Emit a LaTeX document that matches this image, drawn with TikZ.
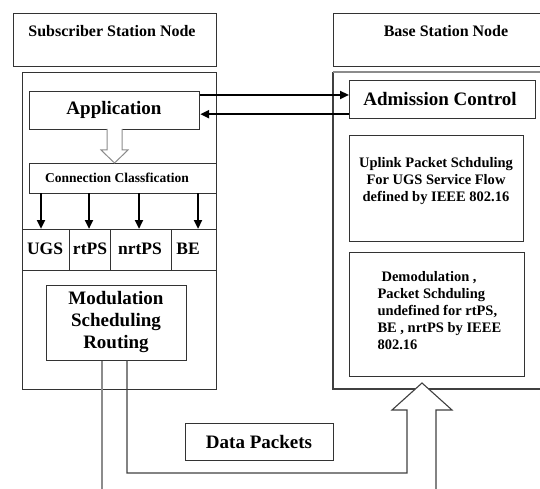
\documentclass[tikz,border=0pt]{standalone}
\usepackage{fontspec}
\setmainfont{Liberation Serif}
\usetikzlibrary{arrows.meta,calc}
\begin{document}
\begin{tikzpicture}[x=1pt,y=-1pt,
  box/.style={draw=black!80,line width=1.2pt,rectangle,inner sep=0pt,anchor=north west},
  thinline/.style={draw=black!75,line width=1.1pt},
  greyline/.style={draw=black!45,line width=1.1pt},
  thick arrow/.style={line width=2.6pt,-{Triangle[length=9pt,width=8pt]}},
  big/.style={font=\fontsize{19}{22}\selectfont\bfseries},
  cls/.style={font=\fontsize{17.5}{20}\selectfont\bfseries},
  head/.style={font=\fontsize{16}{19}\selectfont\bfseries},
  small/.style={font=\fontsize{14.5}{17}\selectfont\bfseries}]
\useasboundingbox (0,0) rectangle (540,489);

% Subscriber station
\node[box,minimum width=203pt,minimum height=53pt] (sshead) at (13,13) {};
\node[head] (sstitle) at (112,31) {Subscriber Station Node};
\node[box,minimum width=194pt,minimum height=317pt] (ssbody) at (22,72) {};
\node[box,minimum width=170pt,minimum height=38pt] (app) at (29,91) {};
\node[big] (apptext) at (114,110) {Application};
\node[box,minimum width=187pt,minimum height=30pt] (cc) at (29,163) {};
\node[font=\fontsize{13.5}{16}\selectfont\bfseries] (cctext) at (117,178) {Connection Classfication};

% service classes
\node[box,minimum width=47pt,minimum height=41pt] (ugs) at (22,229) {};
\node[box,minimum width=41pt,minimum height=41pt] (rtps) at (69,229) {};
\node[box,minimum width=61pt,minimum height=41pt] (nrtps) at (110,229) {};
\node[box,minimum width=45pt,minimum height=41pt] (be) at (171,229) {};
\node[cls] (ugstext) at (45,249) {UGS};
\node[cls] (rtpstext) at (90,249) {rtPS};
\node[cls] (nrtpstext) at (140,249) {nrtPS};
\node[cls] (betext) at (188,249) {BE};

\node[box,minimum width=140pt,minimum height=75pt] (mod) at (46,285) {};
\node[big,align=center] (modtext) at (116,322) {Modulation\\Scheduling\\Routing};

% classifier arrows
\foreach \x in {41,89,139,198}
  \draw[thick arrow] (\x,193) -- (\x,229);

% hollow arrow from application to classifier
\draw[greyline,fill=white,line width=1pt] (107,129) -- (107,150) -- (101,150) -- (114.5,163) -- (128,150) -- (122,150) -- (122,129);

% Base station
\node[box,minimum width=212pt,minimum height=53pt] (bshead) at (333,13) {};
\node[head] (bstitle) at (446,31) {Base Station Node};
\draw[thinline] (545,389) -- (333,389) -- (333,72);
\draw[greyline] (333,72) -- (545,72);
\node[box,minimum width=186pt,minimum height=38pt] (adm) at (349,80) {};
\node[big] (admtext) at (440,99) {Admission Control};
\node[box,minimum width=174pt,minimum height=106pt] (uplink) at (349,135) {};
\node[small,align=center] (uptext) at (436,181) {Uplink Packet Schduling\\For UGS Service Flow\\defined by IEEE 802.16};
\node[box,minimum width=175pt,minimum height=124pt] (demod) at (349,252) {};
\node[small,align=left,anchor=west] (demodtext) at (374,311) {\hspace{4pt}Demodulation ,\\Packet Schduling\\undefined for rtPS,\\BE , nrtPS by IEEE\\802.16};

% request / response between application and admission control
\draw[thick arrow] ([yshift=-4pt]app.north east) -- ([yshift=-4pt]app.north east -| adm.west);
\draw[thick arrow] ([yshift=16pt]app.south east -| adm.west) -- ([yshift=16pt]app.south east);

% data path
\node[box,minimum width=148pt,minimum height=37pt] (data) at (185,423) {};
\node[big] (datatext) at (259,442) {Data Packets};
\coordinate (gend) at (102,489);
\draw[greyline] (mod.south -| gend) -- (gend);
\coordinate (pend) at (436,489);
\fill[white] (392,410) -- (422,383) -- (452,410) -- cycle;
\draw[thinline] (127,360) -- (127,473) -- (407,473) -- (407,410) -- (392,410) -- (422,383) -- (452,410) -- (436,410) -- (pend);
\end{tikzpicture}
\end{document}
